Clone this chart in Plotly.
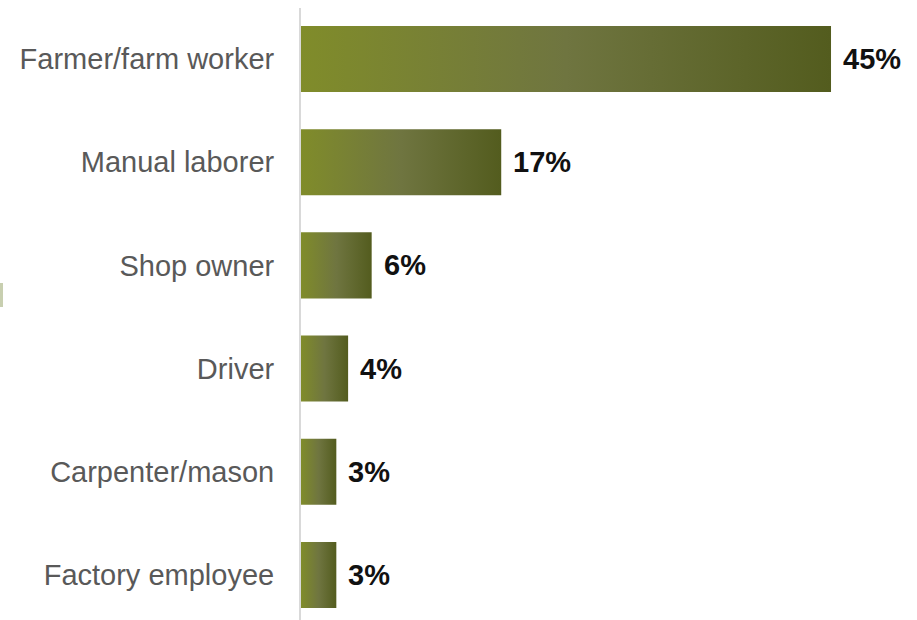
import plotly.graph_objects as go

# Occupation shares (percent)
categories = ["Farmer/farm worker", "Manual laborer", "Shop owner", "Driver",
              "Carpenter/mason", "Factory employee"]
values = [45, 17, 6, 4, 3, 3]
value_labels = ["45%", "17%", "6%", "4%", "3%", "3%"]

BAR_HALF = 0.32
GRADIENT = [[0.0, "#808c2a"], [0.5, "#6f7540"], [1.0, "#535c1e"]]
FONT = "Liberation Sans, Arial, sans-serif"

fig = go.Figure()

# Each bar is a filled rectangle so it can carry a horizontal gradient
for i, (cat, v) in enumerate(zip(categories, values)):
    fig.add_trace(go.Scatter(
        x=[0, v, v, 0, 0],
        y=[i - BAR_HALF, i - BAR_HALF, i + BAR_HALF, i + BAR_HALF, i - BAR_HALF],
        mode="lines",
        line=dict(width=0),
        fill="toself",
        fillgradient=dict(type="horizontal", colorscale=GRADIENT),
        hoverinfo="text",
        text=f"{cat}: {value_labels[i]}",
        showlegend=False,
    ))

# Value labels at the end of each bar
for i, (v, lab) in enumerate(zip(values, value_labels)):
    fig.add_annotation(
        x=v, y=i, text=f"<b>{lab}</b>", showarrow=False,
        xanchor="left", yanchor="middle", xshift=10,
        font=dict(family=FONT, size=29, color="#111111"),
    )

# Small sliver at the left edge
fig.add_shape(
    type="rect", xref="paper", yref="paper",
    x0=-0.4886, x1=-0.4838, y0=(620 - 307) / 612, y1=(620 - 283) / 612,
    line=dict(width=0), fillcolor="#c8cfb0", layer="above",
)

fig.update_layout(
    width=917, height=620,
    margin=dict(l=301, r=0, t=8, b=0),
    paper_bgcolor="white", plot_bgcolor="white",
    xaxis=dict(range=[0, 52.3], visible=False, fixedrange=True),
    yaxis=dict(
        range=[5.436, -0.494],
        tickmode="array", tickvals=list(range(len(categories))), ticktext=categories,
        showgrid=False, zeroline=False, ticks="",
        showline=True, linecolor="#d9d9d9", linewidth=2,
        ticklabelstandoff=19,
        tickfont=dict(family=FONT, size=29, color="#595959"),
        fixedrange=True,
    ),
    font=dict(family=FONT),
)

fig.write_html("out.html")
